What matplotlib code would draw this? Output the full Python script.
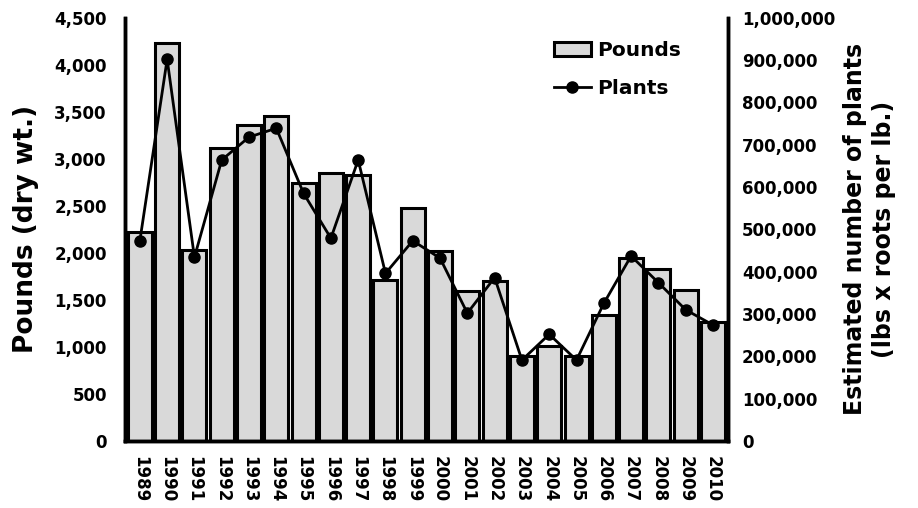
import matplotlib.pyplot as plt
import numpy as np

plt.rcParams['font.family'] = ['DejaVu Sans']
plt.rcParams['font.weight'] = 'bold'
plt.rcParams['axes.labelweight'] = 'bold'

years = [str(y) for y in range(1989, 2011)]
pounds = [2220, 4230, 2030, 3120, 3360, 3460, 2740, 2850, 2830, 1710, 2475,
          2025, 1590, 1700, 905, 1005, 905, 1340, 1945, 1825, 1600, 1260]
plants = [473000, 902000, 434000, 664000, 718000, 739000, 585000, 479000,
          664000, 396000, 473000, 432000, 302000, 386000, 191000, 252000,
          191000, 325000, 437000, 374000, 310000, 274000]

fig = plt.figure(figsize=(9.18, 5.08), dpi=100)
ax = fig.add_axes([0.136, 0.132, 0.657, 0.833])
ax2 = ax.twinx()

x = np.arange(len(years))
bars = ax.bar(x, pounds, width=0.88, color='#d9d9d9', edgecolor='black',
              linewidth=2.2, label='Pounds')
line, = ax2.plot(x, plants, color='black', linewidth=2, marker='o',
                 markersize=8, label='Plants')

ax.set_xlim(-0.55, len(years) - 0.45)
ax.set_ylim(0, 4500)
ax2.set_ylim(0, 1000000)
ax.set_yticks(np.arange(0, 4501, 500))
ax.set_yticklabels([f'{v:,}' for v in range(0, 4501, 500)], fontsize=12)
ax2.set_yticks(np.arange(0, 1000001, 100000))
ax2.set_yticklabels([f'{v:,}' for v in range(0, 1000001, 100000)], fontsize=12)
ax.set_xticks(x)
ax.set_xticklabels(years, rotation=-90, fontsize=12)

for a in (ax, ax2):
    a.spines['top'].set_visible(False)
    for s in ('left', 'right', 'bottom'):
        a.spines[s].set_linewidth(2.5)
    a.tick_params(length=0)
ax.tick_params(axis='y', pad=13)
ax.tick_params(axis='x', pad=11)
ax2.tick_params(axis='y', pad=10)

ax.set_ylabel('Pounds (dry wt.)', fontsize=19, labelpad=11)
ax2.set_ylabel('Estimated number of plants\n(lbs x roots per lb.)', fontsize=17,
               rotation=90, labelpad=6, linespacing=1.25)

leg = fig.legend([bars, line], ['Pounds', 'Plants'], loc='upper left',
                 bbox_to_anchor=(0.603, 0.92), frameon=False, fontsize=14.5,
                 handlelength=1.85, handletextpad=0.3, labelspacing=0.95,
                 borderaxespad=0, borderpad=0)

fig.savefig('out.png', dpi=100)
